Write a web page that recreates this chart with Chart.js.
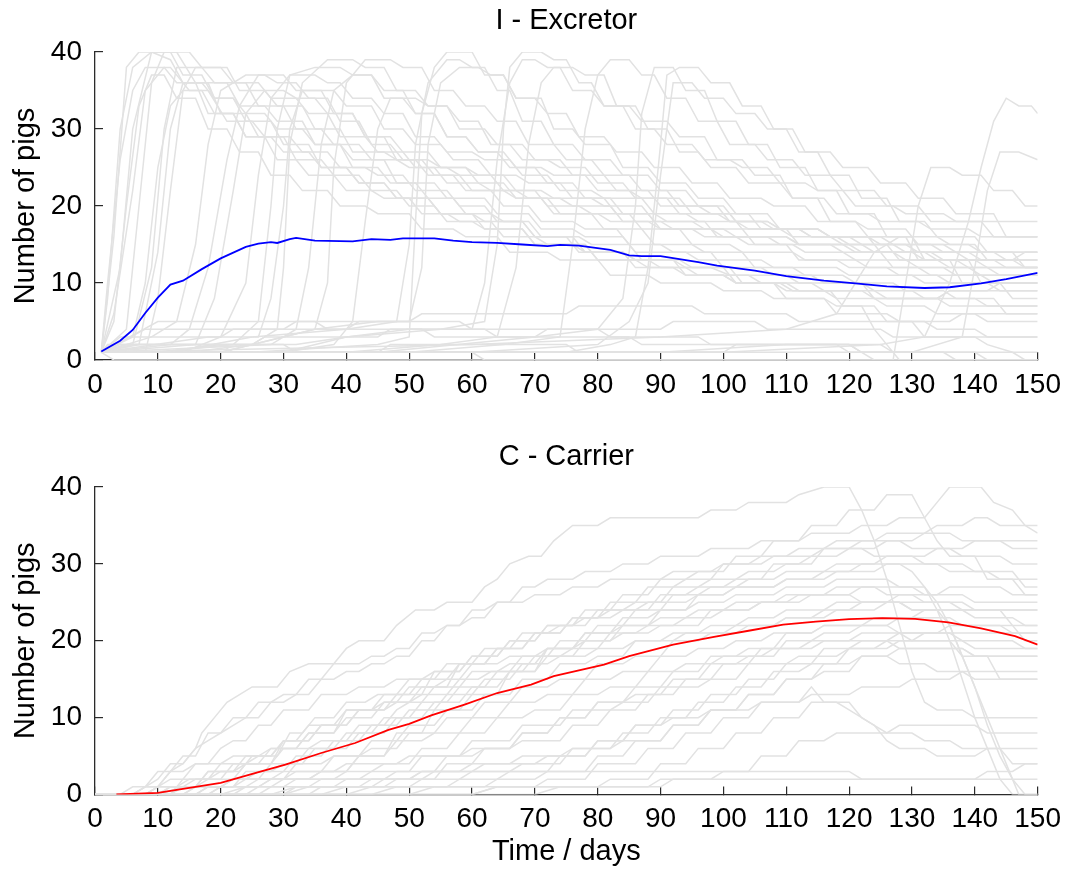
<!DOCTYPE html>
<html>
<head>
<meta charset="utf-8">
<script src="https://cdn.jsdelivr.net/npm/chart.js@4.4.1/dist/chart.umd.min.js"></script>
<style>
  html, body { margin: 0; padding: 0; background: #ffffff; }
  canvas { position: absolute; left: 0; }
</style>
</head>
<body>
<canvas id="excretor" width="1077" height="430" style="top:0px"></canvas>
<canvas id="carrier" width="1077" height="443" style="top:430px"></canvas>
<script>
// Axis ticks
const xTickValues = [0, 10, 20, 30, 40, 50, 60, 70, 80, 90, 100, 110, 120, 130, 140, 150];
const yTickValues = [0, 10, 20, 30, 40];

// Panel titles
const excretorTitle = 'I - Excretor';
const carrierTitle = 'C - Carrier';

// Mean number of excretor pigs (I) over all runs
const excretorMeanDays = [1,4,6,8,10,12,14,17,20,24,26,28,29,31,32,35,41,44,47,49,54,57,60,64,68,72,74,77,82,85,87,90,93,96,99,105,110,116,121,126,132,136,141,145,150];
const excretorMean = [1.1,2.5,3.9,6.1,8.1,9.8,10.3,11.8,13.2,14.7,15.1,15.3,15.2,15.7,15.85,15.5,15.4,15.7,15.6,15.8,15.8,15.5,15.3,15.2,15.0,14.8,14.95,14.85,14.3,13.6,13.5,13.5,13.1,12.7,12.25,11.6,10.9,10.3,9.95,9.55,9.35,9.45,9.95,10.5,11.3];

// Mean number of carrier pigs (C) over all runs
const carrierMeanDays = [3.4,10,15,20,25.6,30.3,36,41.4,46.7,50,53.5,58.8,64,69.4,73,81,85,92,98.5,104,109.5,114.7,120,125.3,130.5,135.8,141,146.4,150];
const carrierMean = [0,0.2,0.85,1.5,2.8,3.9,5.4,6.7,8.4,9.2,10.3,11.7,13.2,14.3,15.4,16.9,18,19.5,20.5,21.3,22.1,22.5,22.8,22.95,22.85,22.4,21.6,20.6,19.5];

// Individual stochastic runs, excretors: flat lists of day, count pairs
const excretorRuns = [
  [1,1, 3,16, 5,38, 7,40, 12,40, 14,37, 17,37, 19,34, 22,34, 24,31, 28,31, 30,28, 34,28, 36,25, 40,25, 42,23, 46,23, 48,21, 53,21, 55,19, 60,19, 62,17, 68,17, 70,15, 78,15, 80,13, 88,13, 90,12, 98,12, 101,11, 110,11, 112,10, 122,10, 124,8, 134,8, 136,7, 150,7],
  [1,1, 4,12, 6,30, 9,40, 13,40, 16,36, 21,36, 23,33, 27,33, 29,31, 33,31, 35,28, 39,28, 41,26, 46,26, 48,23, 54,23, 56,21, 62,21, 64,19, 69,19, 71,17, 76,17, 78,16, 84,16, 86,14, 94,14, 96,13, 106,13, 108,12, 118,12, 120,11, 130,11, 132,10, 142,10, 144,9, 150,9],
  [1,1, 2,10, 4,26, 6,35, 8,38, 12,38, 15,35, 18,35, 21,31, 25,31, 27,29, 31,29, 33,27, 37,27, 39,25, 43,25, 45,24, 49,24, 51,22, 56,22, 58,20, 62,20, 64,18, 68,18, 70,16, 75,16, 77,14, 84,14, 86,13, 92,13, 94,12, 100,12, 102,10, 110,10, 112,9, 122,9, 124,8, 134,8, 136,9, 150,9],
  [1,1, 5,4, 7,20, 9,36, 11,40, 15,40, 17,38, 21,38, 23,35, 27,35, 29,33, 33,33, 35,30, 39,30, 41,27, 46,27, 48,26, 52,26, 54,24, 58,24, 60,22, 65,22, 67,21, 72,21, 74,19, 80,19, 82,18, 88,18, 90,17, 98,17, 100,16, 110,16, 112,15, 122,15, 124,14, 132,14, 134,13, 150,13],
  [1,1, 6,2, 9,12, 11,30, 13,38, 17,38, 19,36, 24,36, 26,33, 30,33, 32,30, 36,30, 38,28, 42,28, 44,26, 48,26, 50,25, 54,25, 56,23, 61,23, 63,22, 67,22, 69,21, 74,21, 76,20, 82,20, 84,18, 90,18, 92,17, 100,17, 102,16, 110,16, 112,15, 120,15, 122,14, 130,14, 132,13, 140,13, 142,12, 150,12],
  [1,1, 8,1, 10,8, 12,22, 14,35, 16,38, 20,38, 22,36, 26,36, 28,34, 32,34, 34,32, 37,32, 39,29, 43,29, 45,27, 49,27, 51,25, 56,25, 58,24, 63,24, 65,22, 70,22, 72,20, 77,20, 79,19, 85,19, 87,17, 93,17, 95,15, 101,15, 103,14, 111,14, 113,13, 121,13, 123,12, 131,12, 133,11, 141,11, 143,10, 150,10],
  [1,1, 9,3, 13,5, 16,15, 18,28, 20,35, 24,37, 27,37, 29,36, 32,36, 34,34, 37,34, 39,31, 42,31, 44,28, 47,28, 49,26, 53,26, 55,25, 59,25, 61,24, 65,24, 67,22, 71,22, 73,21, 79,21, 81,20, 87,20, 89,18, 95,18, 97,17, 103,17, 105,15, 111,15, 113,14, 119,14, 121,13, 129,13, 131,12, 139,12, 141,11, 150,11],
  [1,1, 12,2, 15,4, 18,12, 21,26, 23,33, 26,37, 30,37, 32,35, 38,35, 40,33, 44,33, 46,30, 49,30, 51,28, 55,28, 57,26, 61,26, 63,24, 67,24, 69,23, 74,23, 76,21, 81,21, 83,19, 89,19, 91,18, 97,18, 99,16, 107,16, 109,15, 117,15, 119,14, 125,14, 127,12, 135,12, 137,11, 150,11],
  [1,1, 14,1, 20,3, 24,10, 26,24, 28,34, 31,37, 35,37, 37,36, 39,36, 41,34, 44,34, 46,32, 49,32, 51,29, 54,29, 56,27, 60,27, 62,26, 66,26, 68,24, 72,24, 74,22, 79,22, 81,21, 87,21, 89,19, 94,19, 96,18, 102,18, 104,17, 110,17, 112,15, 119,15, 121,14, 127,14, 129,13, 137,13, 139,12, 150,12],
  [1,1, 10,1, 22,2, 26,5, 28,20, 29,30, 31,37, 35,38, 39,38, 41,37, 44,37, 46,34, 49,34, 51,32, 54,32, 56,29, 59,29, 61,27, 65,27, 67,25, 71,25, 73,24, 78,24, 80,22, 85,22, 87,21, 93,21, 95,19, 101,19, 103,17, 109,17, 111,16, 117,16, 119,15, 127,15, 129,14, 137,14, 139,13, 146,13, 148,14, 150,14],
  [1,1, 15,1, 25,2, 29,4, 30,12, 31,28, 33,36, 37,39, 41,39, 43,38, 46,38, 48,35, 51,35, 53,33, 56,33, 58,30, 62,30, 64,28, 68,28, 70,26, 74,26, 76,24, 81,24, 83,22, 88,22, 90,20, 96,20, 98,19, 104,19, 106,17, 112,17, 114,16, 120,16, 122,15, 129,15, 131,14, 139,14, 141,13, 150,13],
  [1,1, 20,1, 30,3, 35,4, 37,10, 38,25, 40,36, 43,39, 47,39, 49,38, 52,38, 54,35, 57,35, 59,33, 62,33, 64,31, 67,31, 69,28, 73,28, 75,26, 79,26, 81,24, 85,24, 87,22, 91,22, 93,20, 99,20, 101,18, 107,18, 109,17, 115,17, 117,16, 123,16, 125,15, 133,15, 135,14, 143,14, 145,13, 150,13],
  [1,1, 30,1, 38,2, 41,5, 43,18, 45,30, 47,34, 51,34, 53,33, 56,33, 58,31, 61,31, 63,28, 66,28, 68,26, 72,26, 74,25, 78,25, 80,23, 84,23, 86,21, 91,21, 93,19, 99,19, 101,18, 107,18, 109,17, 115,17, 117,16, 125,16, 127,15, 135,15, 137,14, 150,14],
  [1,1, 25,1, 45,2, 50,3, 51,18, 52,32, 54,38, 56,40, 60,40, 62,37, 65,37, 67,34, 71,34, 73,30, 76,30, 78,28, 82,28, 84,25, 88,25, 90,23, 94,23, 96,21, 100,21, 102,19, 107,19, 109,17, 115,17, 117,16, 123,16, 125,14, 133,14, 135,13, 143,13, 145,12, 150,12],
  [1,1, 20,1, 35,4, 45,5, 50,5, 52,12, 53,28, 55,36, 58,38, 61,38, 63,37, 65,37, 67,34, 70,34, 72,32, 75,32, 77,29, 81,29, 83,27, 87,27, 89,25, 93,25, 95,23, 99,23, 101,21, 106,21, 108,20, 113,20, 115,18, 121,18, 123,17, 129,17, 131,15, 139,15, 141,14, 150,14],
  [1,1, 30,1, 40,3, 50,4, 60,4, 62,10, 64,26, 66,36, 68,39, 70,39, 72,38, 74,38, 76,35, 79,35, 81,33, 84,33, 86,30, 89,30, 91,28, 95,28, 97,26, 101,26, 103,25, 107,25, 109,23, 113,23, 115,22, 119,22, 121,20, 127,20, 129,19, 135,19, 137,18, 150,18],
  [1,1, 40,1, 55,2, 64,3, 67,12, 69,28, 71,36, 73,38, 76,38, 78,37, 81,37, 83,33, 86,33, 88,30, 91,30, 93,27, 96,27, 98,25, 102,25, 104,23, 109,23, 111,21, 116,21, 118,19, 123,19, 125,18, 131,18, 133,17, 139,17, 141,16, 150,16],
  [1,1, 50,1, 65,2, 74,3, 76,15, 78,30, 80,37, 82,39, 85,39, 87,37, 89,37, 91,34, 94,34, 96,31, 99,31, 101,28, 105,28, 107,26, 111,26, 113,24, 117,24, 119,22, 124,22, 126,20, 131,20, 133,18, 141,18, 143,16, 150,16],
  [1,1, 60,1, 75,1, 82,2, 86,3, 88,12, 90,28, 91,37, 93,38, 96,38, 98,36, 101,36, 103,33, 106,33, 108,30, 111,30, 113,27, 117,27, 119,25, 123,25, 125,23, 129,23, 131,21, 135,21, 137,19, 143,19, 145,16, 150,16],
  [1,1, 60,1, 80,2, 85,5, 88,10, 90,24, 92,36, 95,36, 97,34, 100,34, 102,32, 105,32, 107,30, 110,30, 112,27, 115,27, 117,24, 120,24, 122,21, 126,21, 128,18, 132,18, 134,16, 140,16, 142,14, 146,14, 148,12, 150,12],
  [1,1, 90,1, 110,2, 120,2, 122,1, 124,0, 127,0, 129,10, 131,20, 133,25, 136,25, 138,24, 141,24, 143,22, 146,22, 148,20, 150,20],
  [1,1, 100,1, 125,2, 132,3, 136,10, 139,18, 141,25, 143,31, 145,34, 147,33, 149,33, 150,32],
  [1,1, 110,1, 130,1, 138,3, 140,12, 142,22, 144,27, 147,27, 150,26],
  [1,1, 3,0, 150,0],
  [1,1, 2,8, 4,30, 6,38, 9,40, 12,39, 14,36, 18,36, 20,32, 24,32, 26,29, 30,29, 32,26, 36,26, 38,24, 42,24, 44,22, 48,22, 50,20, 54,20, 56,18, 60,18, 62,17, 68,17, 70,15, 76,15, 78,14, 84,14, 86,12, 92,12, 94,11, 100,11, 102,10, 108,10, 110,9, 116,9, 118,8, 124,8, 126,7, 132,7, 134,6, 140,6, 142,5, 150,5],
  [1,1, 3,6, 6,22, 8,35, 11,38, 13,36, 16,36, 18,32, 22,32, 24,29, 28,29, 30,27, 34,27, 36,25, 40,25, 42,23, 46,23, 48,21, 53,21, 55,19, 60,19, 62,18, 68,18, 70,16, 76,16, 78,14, 84,14, 86,13, 92,13, 94,11, 100,11, 102,10, 108,10, 110,8, 116,8, 118,7, 124,7, 126,5, 132,5, 134,4, 140,4, 142,3, 150,3],
  [1,1, 7,2, 10,14, 12,30, 14,36, 17,36, 19,34, 22,34, 24,32, 27,32, 29,30, 33,30, 35,28, 39,28, 41,25, 45,25, 47,23, 51,23, 53,21, 57,21, 59,19, 63,19, 65,18, 69,18, 71,16, 77,16, 79,15, 85,15, 87,13, 93,13, 95,12, 101,12, 103,10, 109,10, 111,9, 117,9, 119,7, 122,7, 124,4, 126,2, 128,0, 150,0],
  [1,1, 16,2, 19,8, 22,22, 24,32, 27,35, 30,35, 32,34, 35,34, 37,32, 41,32, 43,29, 47,29, 49,27, 53,27, 55,25, 59,25, 61,23, 65,23, 67,21, 71,21, 73,19, 79,19, 81,17, 87,17, 89,15, 95,15, 97,14, 103,14, 105,12, 111,12, 113,11, 119,11, 121,10, 127,10, 129,9, 135,9, 137,8, 143,8, 145,6, 150,6],
  [1,1, 10,1, 20,2, 32,2, 40,3, 55,4, 62,5, 64,15, 65,30, 66,38, 68,40, 71,40, 73,39, 75,39, 77,36, 79,36, 81,33, 85,33, 87,31, 91,31, 93,29, 97,29, 99,26, 103,26, 105,24, 109,24, 111,21, 115,21, 117,18, 121,18, 123,16, 129,16, 131,13, 139,13, 141,10, 150,10],
  [1,1, 28,2, 32,4, 34,12, 36,28, 38,35, 41,37, 44,37, 46,35, 49,35, 51,32, 54,32, 56,29, 59,29, 61,27, 64,27, 66,25, 70,25, 72,23, 76,23, 78,21, 82,21, 84,19, 88,19, 90,17, 95,17, 97,16, 102,16, 104,15, 110,15, 112,13, 118,13, 120,12, 126,12, 128,11, 134,11, 136,10, 150,10],
  [1,1, 12,1, 25,3, 40,4, 48,5, 50,15, 51,28, 53,36, 56,39, 58,39, 60,38, 62,38, 64,35, 66,35, 68,31, 71,31, 73,28, 76,28, 78,26, 82,26, 84,24, 88,24, 90,22, 94,22, 96,20, 100,20, 102,18, 106,18, 108,17, 112,17, 114,16, 118,16, 120,15, 126,15, 128,13, 134,13, 136,12, 142,12, 144,11, 150,11],
  [1,1, 45,1, 70,3, 80,4, 84,8, 86,20, 87,32, 89,38, 92,38, 94,35, 97,35, 99,31, 102,31, 104,28, 107,28, 109,25, 113,25, 115,22, 118,22, 120,19, 124,19, 126,16, 130,16, 132,13, 136,13, 138,10, 144,10, 146,8, 150,8],
  [1,1, 60,2, 90,3, 110,4, 118,6, 121,10, 124,14, 128,16, 134,16, 136,15, 140,15, 142,13, 146,13, 148,12, 150,12],
  [1,1, 5,2, 30,2, 32,1, 60,1, 62,0, 150,0],
  [1,1, 4,3, 20,3, 22,4, 40,4, 42,5, 58,5, 60,4, 80,4, 82,3, 96,3, 98,2, 120,2, 122,1, 140,1, 142,0, 150,0],
  [1,1, 8,4, 30,4, 32,5, 50,5, 52,6, 75,6, 77,7, 95,7, 97,6, 110,6, 112,5, 130,5, 132,3, 140,3, 142,2, 146,1, 148,0, 150,0],
  [1,1, 3,5, 5,20, 7,33, 9,37, 11,37, 13,34, 16,34, 18,30, 21,30, 23,27, 26,27, 28,24, 31,24, 33,22, 37,22, 39,20, 43,20, 45,19, 50,19, 52,17, 57,17, 59,16, 64,16, 66,14, 72,14, 74,13, 80,13, 82,11, 88,11, 90,10, 98,10, 100,9, 106,9, 108,8, 116,8, 118,6, 126,6, 128,5, 136,5, 138,6, 150,6],
  [1,1, 6,3, 8,10, 10,25, 12,33, 14,35, 17,35, 19,32, 22,32, 24,29, 27,29, 29,26, 32,26, 34,24, 38,24, 40,22, 44,22, 46,21, 50,21, 52,19, 56,19, 58,18, 63,18, 65,16, 70,16, 72,15, 78,15, 80,13, 86,13, 88,12, 94,12, 96,11, 104,11, 106,10, 114,10, 116,9, 124,9, 126,8, 134,8, 136,9, 142,9, 144,10, 150,10],
  [1,1, 4,2, 25,2, 27,3, 45,3, 47,4, 62,4, 64,3, 85,3, 87,2, 118,2, 120,1, 135,1, 137,0, 150,0],
  [1,1, 10,5, 35,5, 37,4, 52,4, 54,3, 70,3, 72,4, 90,4, 92,5, 105,5, 107,4, 125,4, 127,3, 150,3],
  [1,1, 2,2, 20,2, 22,1, 45,1, 47,2, 75,2, 77,1, 100,1, 102,2, 125,2, 127,1, 150,1],
  [1,1, 18,3, 26,3, 28,8, 30,20, 31,30, 33,35, 36,35, 38,32, 41,32, 43,29, 46,29, 48,26, 51,26, 53,24, 57,24, 59,22, 63,22, 65,20, 69,20, 71,18, 76,18, 78,17, 83,17, 85,15, 90,15, 92,14, 98,14, 100,12, 106,12, 108,11, 114,11, 116,10, 122,10, 124,9, 130,9, 132,8, 140,8, 142,7, 150,7]
];

// Individual stochastic runs, carriers: flat lists of day, count pairs
const carrierRuns = [
  [0,0, 6,0, 8,1, 10,1, 12,3, 14,4, 16,6, 17,8, 19,10, 21,12, 23,13, 25,14, 29,14, 31,16, 34,17, 38,17, 40,19, 42,20, 46,20, 48,22, 51,24, 54,24, 56,25, 60,25, 62,27, 64,28, 66,30, 69,31, 71,31, 73,33, 76,35, 80,35, 82,36, 96,36, 98,37, 102,37, 104,38, 110,38, 112,39, 116,40, 120,40, 122,37, 124,33, 126,28, 128,22, 130,16, 132,12, 134,11, 138,11, 140,10, 150,10],
  [0,0, 10,0, 12,1, 16,1, 18,3, 22,3, 24,4, 28,4, 30,6, 34,6, 36,7, 40,7, 42,9, 46,9, 48,11, 50,12, 52,13, 56,13, 58,15, 61,15, 63,16, 66,16, 68,18, 72,18, 74,20, 78,20, 80,22, 84,22, 86,24, 90,24, 92,26, 96,26, 98,27, 102,27, 104,28, 108,28, 110,29, 116,29, 118,30, 124,30, 126,31, 132,31, 134,32, 138,32, 140,33, 150,33],
  [0,0, 12,0, 14,2, 18,2, 20,4, 24,4, 26,5, 29,5, 31,8, 33,8, 35,10, 38,10, 40,12, 43,12, 45,13, 48,13, 50,15, 54,15, 56,17, 60,17, 62,19, 66,19, 68,21, 72,21, 74,22, 78,22, 80,24, 84,24, 86,25, 90,25, 92,27, 96,27, 98,28, 102,28, 104,29, 108,29, 110,30, 114,30, 116,32, 120,32, 122,33, 128,33, 130,32, 136,32, 138,31, 144,31, 146,30, 150,30],
  [0,0, 14,0, 16,1, 22,1, 24,3, 28,3, 30,4, 33,4, 35,6, 40,6, 42,8, 46,8, 48,10, 52,10, 54,12, 58,12, 60,14, 64,14, 66,16, 70,16, 72,18, 76,18, 78,20, 82,20, 84,22, 88,22, 90,24, 94,24, 96,25, 100,25, 102,26, 108,26, 110,27, 116,27, 118,28, 126,28, 128,27, 132,27, 134,25, 136,22, 138,18, 140,14, 142,9, 144,5, 146,2, 147,0, 150,0],
  [0,0, 16,0, 18,1, 24,1, 26,2, 30,2, 32,4, 36,4, 38,5, 42,5, 44,7, 48,7, 50,9, 54,9, 56,11, 60,11, 62,13, 66,13, 68,15, 72,15, 74,17, 78,17, 80,18, 84,18, 86,20, 90,20, 92,21, 96,21, 98,22, 102,22, 104,23, 108,23, 110,24, 116,24, 118,25, 128,25, 130,24, 138,24, 140,23, 146,23, 148,22, 150,22],
  [0,0, 8,0, 10,1, 13,1, 15,2, 18,2, 20,3, 23,3, 25,5, 28,5, 30,7, 32,7, 34,9, 38,9, 40,11, 44,11, 46,12, 48,12, 50,14, 54,14, 56,15, 58,15, 60,17, 64,17, 66,18, 70,18, 72,19, 76,19, 78,21, 82,21, 84,22, 88,22, 90,23, 94,23, 96,24, 100,24, 102,25, 108,25, 110,26, 116,26, 118,27, 124,27, 126,26, 130,26, 132,25, 138,25, 140,24, 150,24],
  [0,0, 18,0, 20,1, 26,1, 28,2, 34,2, 36,3, 40,3, 42,5, 46,5, 48,7, 52,7, 54,8, 58,8, 60,10, 64,10, 66,12, 70,12, 72,13, 76,13, 78,15, 82,15, 84,16, 88,16, 90,18, 94,18, 96,19, 100,19, 102,20, 106,20, 108,21, 114,21, 116,22, 126,22, 128,21, 136,21, 138,20, 146,20, 148,19, 150,19],
  [0,0, 20,0, 24,1, 30,1, 32,2, 38,2, 40,3, 44,3, 46,4, 50,4, 52,6, 56,6, 58,8, 62,8, 64,10, 68,10, 70,11, 74,11, 76,13, 80,13, 82,14, 86,14, 88,16, 92,16, 94,17, 98,17, 100,18, 106,18, 108,19, 114,19, 116,20, 126,20, 128,19, 138,19, 140,18, 150,18],
  [0,0, 10,0, 14,1, 20,1, 22,2, 28,2, 30,3, 38,3, 40,4, 48,4, 50,5, 58,5, 60,6, 66,6, 68,7, 74,7, 76,9, 80,9, 82,11, 86,11, 88,13, 92,13, 94,15, 98,15, 100,17, 104,17, 106,19, 112,19, 114,20, 120,20, 122,21, 128,21, 130,20, 136,20, 138,18, 142,18, 144,15, 150,15],
  [0,0, 24,0, 26,1, 28,2, 34,2, 36,3, 40,3, 42,5, 46,5, 48,8, 52,8, 54,11, 58,11, 60,13, 64,13, 66,16, 70,16, 72,19, 76,19, 78,21, 82,21, 84,23, 88,23, 90,24, 94,24, 96,26, 100,26, 102,27, 108,27, 110,28, 116,28, 118,29, 124,29, 126,30, 134,30, 136,29, 142,29, 144,28, 150,28],
  [0,0, 6,0, 8,1, 10,1, 12,3, 14,3, 16,4, 20,4, 22,5, 26,5, 28,6, 32,6, 34,8, 38,8, 40,10, 44,10, 46,12, 50,12, 52,14, 56,14, 58,17, 62,17, 64,19, 68,19, 70,21, 74,21, 76,23, 80,23, 82,25, 86,25, 88,27, 92,27, 94,28, 98,28, 100,30, 104,30, 106,31, 110,31, 112,32, 116,32, 118,33, 124,33, 126,34, 132,34, 134,35, 138,35, 140,36, 142,36, 144,35, 150,35],
  [0,0, 28,0, 32,1, 38,1, 40,2, 46,2, 48,3, 54,3, 56,5, 60,5, 62,6, 66,6, 68,8, 72,8, 74,10, 78,10, 80,12, 84,12, 86,14, 90,14, 92,16, 96,16, 98,18, 102,18, 104,19, 108,19, 110,21, 114,21, 116,22, 122,22, 124,23, 130,23, 132,24, 150,24],
  [0,0, 30,0, 34,1, 42,1, 44,2, 50,2, 52,3, 58,3, 60,4, 66,4, 68,5, 74,5, 76,6, 82,6, 84,7, 90,7, 92,9, 96,9, 98,11, 102,11, 104,13, 108,13, 110,15, 114,15, 116,17, 120,17, 122,18, 126,18, 128,17, 132,17, 134,16, 138,16, 140,15, 150,15],
  [0,0, 4,0, 6,1, 8,1, 10,3, 12,3, 14,5, 16,5, 18,8, 20,8, 22,10, 24,10, 26,12, 28,12, 30,13, 32,13, 34,15, 36,15, 38,17, 42,17, 44,18, 46,18, 48,19, 50,19, 52,21, 54,21, 56,22, 58,22, 60,23, 62,23, 64,25, 68,25, 70,26, 74,26, 76,27, 80,27, 82,28, 90,28, 92,29, 98,29, 100,30, 106,30, 108,31, 114,31, 116,32, 122,32, 124,31, 130,31, 132,30, 138,30, 140,29, 146,29, 148,27, 150,27],
  [0,0, 14,0, 16,1, 18,2, 22,2, 24,4, 28,4, 30,7, 34,7, 36,9, 40,9, 42,11, 46,11, 48,12, 52,12, 54,14, 58,14, 60,16, 64,16, 66,17, 70,17, 72,19, 76,19, 78,20, 82,20, 84,21, 88,21, 90,22, 96,22, 98,24, 104,24, 106,25, 112,25, 114,26, 120,26, 122,27, 130,27, 132,26, 138,26, 140,25, 150,25],
  [0,0, 40,0, 44,1, 50,1, 52,2, 58,2, 60,3, 66,3, 68,4, 74,4, 76,6, 82,6, 84,8, 88,8, 90,10, 94,10, 96,12, 100,12, 102,14, 106,14, 108,16, 112,16, 114,17, 118,17, 120,19, 124,19, 126,20, 130,20, 132,21, 150,21],
  [0,0, 50,0, 54,1, 62,1, 64,2, 70,2, 72,3, 78,3, 80,5, 84,5, 86,7, 90,7, 92,9, 96,9, 98,11, 102,11, 104,13, 108,13, 110,15, 114,15, 116,16, 120,16, 122,18, 126,18, 128,19, 138,19, 140,18, 150,18],
  [0,0, 8,0, 10,1, 20,1, 22,2, 50,2, 52,3, 120,3, 122,2, 150,2],
  [0,0, 30,0, 32,1, 90,1, 92,2, 140,2, 142,3, 146,3, 148,4, 150,4],
  [0,0, 12,0, 14,1, 16,2, 20,2, 22,4, 26,4, 28,6, 32,6, 34,8, 38,8, 40,11, 44,11, 46,13, 50,13, 52,15, 56,15, 58,17, 62,17, 64,19, 68,19, 70,21, 74,21, 76,23, 80,23, 82,24, 86,24, 88,25, 94,25, 96,26, 100,26, 102,27, 108,27, 110,28, 114,28, 116,29, 120,29, 122,30, 128,30, 130,29, 132,27, 134,24, 136,20, 138,15, 140,10, 142,6, 144,2, 146,0, 150,0],
  [0,0, 60,0, 64,1, 70,1, 72,2, 78,2, 80,4, 86,4, 88,6, 92,6, 94,8, 98,8, 100,10, 104,10, 106,12, 112,12, 114,14, 116,12, 120,12, 122,10, 124,9, 126,7, 128,6, 132,6, 134,5, 140,5, 142,6, 150,6],
  [0,0, 70,0, 74,1, 80,1, 82,2, 88,2, 90,4, 94,4, 96,6, 100,6, 102,8, 106,8, 108,10, 112,10, 114,12, 118,12, 120,11, 124,9, 126,8, 130,8, 132,7, 136,7, 138,6, 144,6, 146,4, 150,4],
  [0,0, 16,0, 18,1, 22,1, 24,2, 26,3, 30,3, 32,5, 36,5, 38,7, 42,7, 44,9, 48,9, 50,11, 54,11, 56,13, 60,13, 62,15, 66,15, 68,17, 72,17, 74,18, 78,18, 80,19, 84,19, 86,20, 92,20, 94,21, 100,21, 102,22, 108,22, 110,23, 116,23, 118,24, 124,24, 126,25, 136,25, 138,24, 144,24, 146,22, 150,22],
  [0,0, 22,0, 24,1, 28,1, 30,2, 32,3, 36,3, 38,5, 42,5, 44,6, 48,6, 50,8, 54,8, 56,10, 60,10, 62,12, 66,12, 68,14, 72,14, 74,15, 78,15, 80,17, 84,17, 86,18, 90,18, 92,20, 96,20, 98,21, 102,21, 104,22, 108,22, 110,23, 114,23, 116,24, 120,24, 122,25, 126,25, 128,26, 134,26, 136,27, 144,27, 146,26, 150,26],
  [0,0, 8,0, 10,1, 12,2, 14,2, 16,4, 18,4, 20,6, 22,7, 24,7, 26,9, 28,9, 30,11, 34,11, 36,13, 40,13, 42,14, 46,14, 48,15, 52,15, 54,16, 58,16, 60,18, 64,18, 66,20, 70,20, 72,22, 76,22, 78,23, 82,23, 84,24, 88,24, 90,26, 94,26, 96,27, 100,27, 102,28, 106,28, 108,30, 112,30, 114,31, 118,31, 120,32, 124,32, 126,33, 130,33, 132,34, 136,34, 138,33, 144,33, 146,32, 150,32],
  [0,0, 36,0, 40,1, 46,1, 48,2, 54,2, 56,4, 60,4, 62,6, 66,6, 68,8, 72,8, 74,10, 78,10, 80,12, 84,12, 86,13, 90,13, 92,15, 96,15, 98,17, 102,17, 104,18, 108,18, 110,20, 114,20, 116,21, 120,21, 122,22, 126,22, 128,23, 136,23, 138,22, 146,22, 148,20, 150,20],
  [0,0, 18,0, 20,1, 22,2, 26,2, 28,4, 32,4, 34,6, 38,6, 40,8, 44,8, 46,10, 50,10, 52,12, 56,12, 58,14, 62,14, 64,16, 68,16, 70,18, 74,18, 76,19, 80,19, 82,21, 86,21, 88,22, 92,22, 94,23, 98,23, 100,24, 104,24, 106,25, 110,25, 112,26, 120,26, 122,25, 128,25, 130,24, 134,24, 136,22, 138,18, 140,14, 142,10, 144,6, 146,2, 148,0, 150,0],
  [0,0, 44,0, 48,1, 56,1, 58,2, 64,2, 66,3, 72,3, 74,5, 78,5, 80,7, 84,7, 86,9, 90,9, 92,11, 96,11, 98,13, 102,13, 104,15, 108,15, 110,17, 114,17, 116,19, 120,19, 122,20, 126,20, 128,21, 134,21, 136,22, 144,22, 146,21, 150,21],
  [0,0, 6,0, 8,1, 10,2, 12,4, 14,4, 16,6, 18,7, 20,8, 22,9, 24,10, 26,10, 28,12, 30,12, 32,13, 34,13, 36,15, 38,15, 40,16, 42,16, 44,17, 46,17, 48,18, 50,18, 52,20, 54,20, 56,22, 58,22, 60,24, 62,24, 64,25, 66,25, 68,27, 70,27, 72,28, 76,28, 78,29, 82,29, 84,30, 88,30, 90,31, 96,31, 98,32, 104,32, 106,33, 112,33, 114,34, 120,34, 122,35, 126,35, 128,36, 132,36, 134,38, 136,40, 141,40, 143,38, 146,37, 148,35, 150,34],
  [0,0, 26,0, 28,1, 34,1, 36,2, 42,2, 44,3, 50,3, 52,5, 58,5, 60,7, 66,7, 68,9, 74,9, 76,11, 82,11, 84,12, 88,12, 90,14, 96,14, 98,15, 102,15, 104,17, 110,17, 112,18, 118,18, 120,19, 126,19, 128,20, 138,20, 140,19, 150,19],
  [0,0, 60,0, 64,1, 88,1, 90,2, 98,2, 100,3, 104,3, 106,5, 110,5, 112,7, 116,7, 118,8, 126,8, 128,9, 140,9, 142,8, 150,8],
  [0,0, 34,0, 36,1, 44,1, 46,2, 52,2, 54,3, 60,3, 62,4, 70,4, 72,5, 78,5, 80,7, 84,7, 86,9, 90,9, 92,10, 96,10, 98,11, 104,11, 106,12, 112,12, 114,13, 120,13, 122,14, 128,14, 130,15, 136,15, 138,16, 150,16],
  [0,0, 10,0, 12,1, 16,1, 18,3, 22,3, 24,5, 28,5, 30,7, 34,7, 36,9, 40,9, 42,11, 46,11, 48,13, 52,13, 54,16, 58,16, 60,18, 64,18, 66,20, 70,20, 72,22, 76,22, 78,24, 82,24, 84,26, 88,26, 90,28, 94,28, 96,29, 100,29, 102,31, 106,31, 108,33, 112,33, 114,35, 118,35, 120,37, 124,37, 126,39, 130,39, 132,36, 134,33, 136,31, 140,31, 142,28, 146,28, 148,26, 150,26]
];

const FONT = "'Liberation Sans', Arial, Helvetica, sans-serif";
const RUN_COLOR = '#e2e2e2';
const AXIS_COLOR = '#2b2b2b';

function pairsToPoints(flat) {
  const pts = [];
  for (let i = 0; i < flat.length; i += 2) pts.push({ x: flat[i], y: flat[i + 1] });
  return pts;
}

function zipPoints(xs, ys) {
  return xs.map((x, i) => ({ x: x, y: ys[i] }));
}

function buildDatasets(meanDays, meanValues, meanColor, runs) {
  // Mean first so it is drawn on top of the individual runs
  const sets = [{
    data: zipPoints(meanDays, meanValues),
    borderColor: meanColor,
    borderWidth: 1.8,
    pointRadius: 0,
    tension: 0,
    order: 0
  }];
  runs.forEach(run => {
    sets.push({
      data: pairsToPoints(run),
      borderColor: RUN_COLOR,
      borderWidth: 1.5,
      pointRadius: 0,
      tension: 0,
      order: 1
    });
  });
  return sets;
}

// Panel title centred over the plotting area
const panelTitle = {
  id: 'panelTitle',
  afterDraw(chart, args, opts) {
    const { ctx, chartArea } = chart;
    ctx.save();
    ctx.fillStyle = '#000';
    ctx.font = '29px ' + FONT;
    ctx.textAlign = 'center';
    ctx.textBaseline = 'middle';
    ctx.fillText(opts.text, (chartArea.left + chartArea.right) / 2, opts.y);
    ctx.restore();
  }
};

function buildOptions(cfg) {
  return {
    responsive: false,
    animation: false,
    devicePixelRatio: 1,
    events: [],
    layout: { padding: { left: 0, right: 34, top: cfg.top, bottom: 0 } },
    plugins: {
      legend: { display: false },
      tooltip: { enabled: false },
      title: { display: false },
      panelTitle: { text: cfg.title, y: cfg.titleY }
    },
    scales: {
      x: {
        type: 'linear',
        min: 0,
        max: 150,
        afterFit: s => { s.height = cfg.xHeight; },
        afterBuildTicks: s => { s.ticks = xTickValues.map(v => ({ value: v })); },
        ticks: {
          color: '#000',
          font: { family: FONT, size: 28 },
          padding: 16,
          maxRotation: 0,
          autoSkip: false
        },
        grid: { drawOnChartArea: false, drawTicks: true, tickLength: -8, color: AXIS_COLOR, lineWidth: 1.2 },
        border: { color: AXIS_COLOR, width: 1.3 },
        title: {
          display: !!cfg.xTitle,
          text: cfg.xTitle || '',
          color: '#000',
          font: { family: FONT, size: 29, lineHeight: 1.2 },
          padding: { top: 0, bottom: 4 }
        }
      },
      y: {
        min: 0,
        max: 40,
        afterFit: s => { s.width = 95; },
        afterBuildTicks: s => { s.ticks = yTickValues.map(v => ({ value: v })); },
        ticks: {
          color: '#000',
          font: { family: FONT, size: 28 },
          padding: 21
        },
        grid: { drawOnChartArea: false, drawTicks: true, tickLength: -8, color: AXIS_COLOR, lineWidth: 1.2 },
        border: { color: AXIS_COLOR, width: 1.3 },
        title: {
          display: true,
          text: 'Number of pigs',
          color: '#000',
          font: { family: FONT, size: 29, lineHeight: 1.2 },
          padding: { top: 9, bottom: 0 }
        }
      }
    }
  };
}

new Chart(document.getElementById('excretor'), {
  type: 'line',
  data: { datasets: buildDatasets(excretorMeanDays, excretorMean, '#0000ff', excretorRuns) },
  options: buildOptions({ title: excretorTitle, titleY: 21, top: 52, xHeight: 70 }),
  plugins: [panelTitle]
});

new Chart(document.getElementById('carrier'), {
  type: 'line',
  data: { datasets: buildDatasets(carrierMeanDays, carrierMean, '#ff0000', carrierRuns) },
  options: buildOptions({ title: carrierTitle, titleY: 27, top: 57, xHeight: 78.5, xTitle: 'Time / days' }),
  plugins: [panelTitle]
});
</script>
</body>
</html>
